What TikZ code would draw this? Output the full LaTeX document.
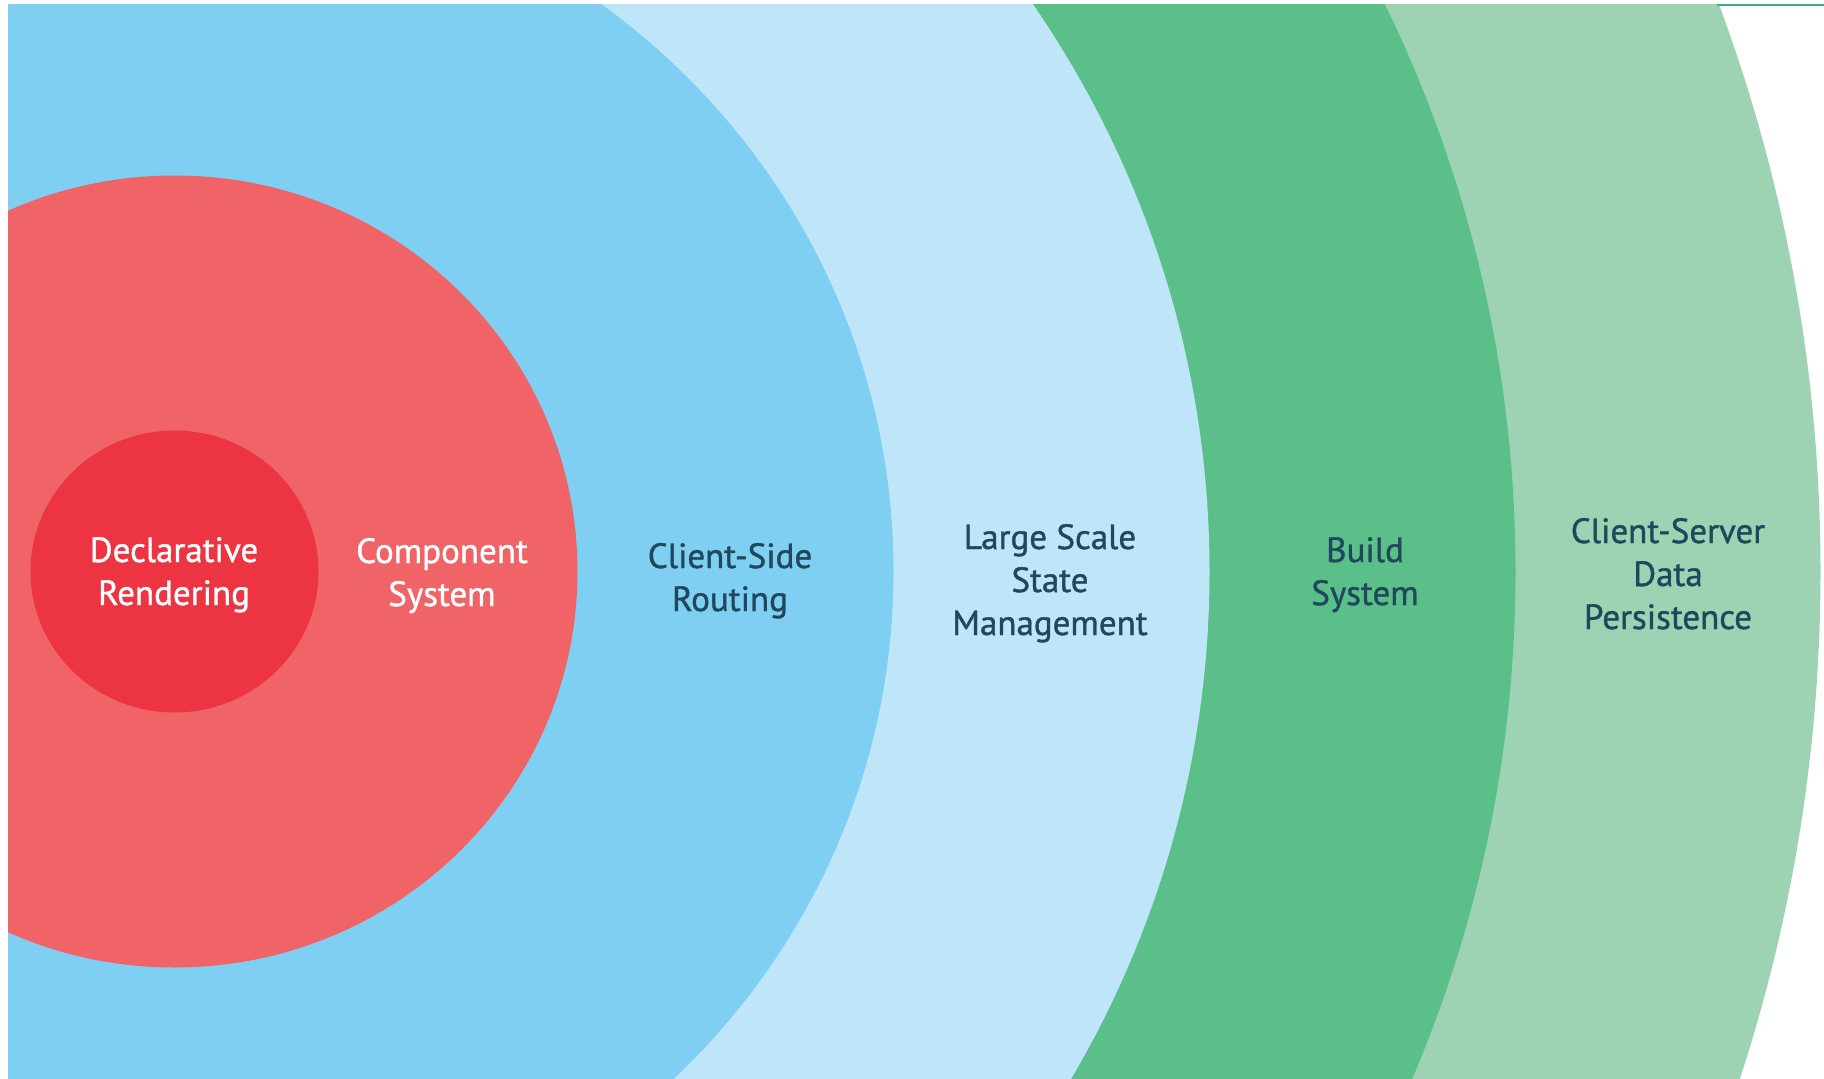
\documentclass[tikz,border=0pt]{standalone}
\usepackage{fontspec}
\setmainfont{PT Sans}[FakeBold=1.1]
\usepackage{tikz}
\usetikzlibrary{positioning}

\begin{document}
\begin{tikzpicture}[x=1pt, y=-1pt, font=\fontsize{35}{43}\selectfont]

    % Define colors
    \definecolor{coreRed}{RGB}{236, 52, 66}
    \definecolor{componentRed}{RGB}{240, 100, 104}
    \definecolor{routingBlue}{RGB}{127, 207, 243}
    \definecolor{stateBlue}{RGB}{191, 230, 248}
    \definecolor{buildGreen}{RGB}{91, 191, 138}
    \definecolor{persistGreen}{RGB}{157, 211, 178}
    \definecolor{edgeGreen}{RGB}{60, 180, 120}
    \definecolor{labelNavy}{RGB}{32, 72, 92}

    \tikzset{
        ringlabel/.style={align=center, anchor=base, text=labelNavy},
        corelabel/.style={align=center, anchor=base, text=white},
    }

    % Canvas
    \fill[white] (0,0) rectangle (1824,1079);
    \useasboundingbox (0,0) rectangle (1824,1079);

    % === RINGS ===
    \begin{scope}
        \clip (8,4) rectangle (1824,1079);
        \coordinate (centre) at (174.5,571.5);
        \fill[persistGreen] (centre) ellipse[x radius=1646pt, y radius=1636pt];
        \fill[buildGreen] (centre) ellipse[x radius=1341pt, y radius=1316pt];
        \fill[stateBlue] (centre) ellipse[x radius=1035pt, y radius=1015pt];
        \fill[routingBlue] (centre) ellipse[x radius=719pt, y radius=705pt];
        \fill[componentRed] (centre) ellipse[x radius=403pt, y radius=396pt];
        \fill[coreRed] (centre) ellipse[x radius=144pt, y radius=141pt];
    \end{scope}

    % thin line on the top edge
    \coordinate (lineStart) at (1717,5);
    \coordinate (lineEnd) at (1824,5);
    \draw[edgeGreen, line width=2pt] (lineStart) -- (lineEnd);

    % === LABELS (base = last line) ===
    \node[corelabel] (declarative) at (174,605) {Declarative\\Rendering};
    \node[corelabel] (component) at (442,606) {Component\\System};
    \node[ringlabel] (routing) at (730,611) {Client-Side\\Routing};
    \node[ringlabel] (state) at (1050,635) {Large Scale\\State\\Management};
    \node[ringlabel] (build) at (1365,605) {Build\\System};
    \node[ringlabel] (persistence) at (1668,629) {Client-Server\\Data\\Persistence};

\end{tikzpicture}
\end{document}
